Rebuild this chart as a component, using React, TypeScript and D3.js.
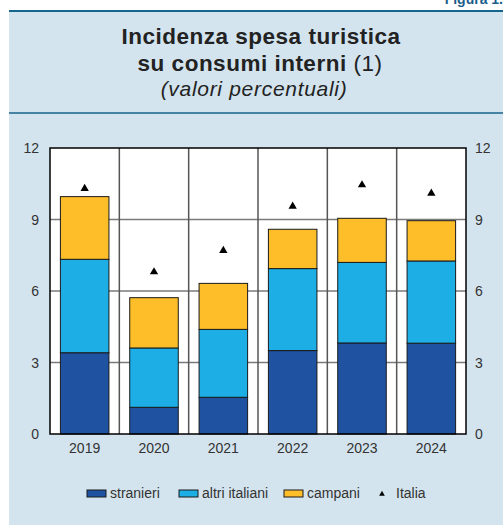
import React from "react";
import * as d3 from "d3";

// anni e serie (valori percentuali)
const years = ["2019", "2020", "2021", "2022", "2023", "2024"];
const stranieri = [3.41, 1.12, 1.54, 3.5, 3.82, 3.81];
const altriItaliani = [3.92, 2.49, 2.85, 3.44, 3.38, 3.45];
const campani = [2.63, 2.11, 1.93, 1.65, 1.85, 1.69];
const italia = [10.3, 6.8, 7.7, 9.55, 10.45, 10.1];
const yTicks = [0, 3, 6, 9, 12];

const seriesKeys = ["stranieri", "altri italiani", "campani"];
const colors = ["#1f52a0", "#1caee4", "#fdbe2a"];

const W = 503;
const H = 525;
const margin = { left: 50, right: 37, top: 148, bottom: 91 };
const font = "Arial, 'Liberation Sans', Helvetica, sans-serif";

const App = () => {
  const rows = years.map((y, i) => ({
    year: y,
    stranieri: stranieri[i],
    "altri italiani": altriItaliani[i],
    campani: campani[i],
  }));
  const stacked = d3.stack<any>().keys(seriesKeys)(rows);

  const x = d3
    .scaleBand()
    .domain(years)
    .range([margin.left, W - margin.right])
    .paddingInner(0)
    .paddingOuter(0);
  const y = d3
    .scaleLinear()
    .domain([0, 12])
    .range([H - margin.bottom, margin.top]);

  const barW = x.bandwidth() * 0.7;
  const triangle = d3.symbol().type(d3.symbolTriangle).size(30)();

  const legend = [
    { label: "stranieri", x: 87, color: colors[0] },
    { label: "altri italiani", x: 179, color: colors[1] },
    { label: "campani", x: 284, color: colors[2] },
  ];

  return (
    <svg
      width={W}
      height={H}
      style={{ position: "absolute", left: 0, top: 0 }}
      fontFamily={font}
    >
      <rect x={0} y={0} width={W} height={H} fill="#ffffff" />
      <text
        x={503}
        y={4}
        textAnchor="end"
        fontSize={14}
        fontWeight="bold"
        fill="#1a5d8a"
      >
        Figura 1.
      </text>
      <rect x={9} y={12} width={W - 9} height={H - 12} fill="#d3e4ee" />
      <line x1={9} x2={W} y1={11} y2={11} stroke="#17658c" strokeWidth={2} />
      <line x1={9} x2={W} y1={113} y2={113} stroke="#17658c" strokeWidth={1.5} />

      <text x={261} y={44} textAnchor="middle" fontSize={22.5} letterSpacing={0.5} fontWeight="bold" fill="#222">
        Incidenza spesa turistica
      </text>
      <text x={260} y={71} textAnchor="middle" fontSize={22.5} letterSpacing={0.5} fill="#222">
        <tspan fontWeight="bold">su consumi interni</tspan> (1)
      </text>
      <text x={254} y={96} textAnchor="middle" fontSize={21} letterSpacing={0.7} fontStyle="italic" fill="#222">
        (valori percentuali)
      </text>

      {/* area del grafico */}
      <rect
        x={margin.left}
        y={margin.top}
        width={W - margin.left - margin.right}
        height={H - margin.top - margin.bottom}
        fill="#ffffff"
      />
      {yTicks.slice(1, -1).map((t) => (
        <line
          key={t}
          x1={margin.left}
          x2={W - margin.right}
          y1={y(t)}
          y2={y(t)}
          stroke="#7a7a7a"
          strokeWidth={1.5}
        />
      ))}
      {years.slice(1).map((yr) => (
        <line
          key={yr}
          x1={x(yr)}
          x2={x(yr)}
          y1={margin.top}
          y2={H - margin.bottom}
          stroke="#555"
          strokeWidth={1.5}
        />
      ))}

      {stacked.map((s, si) =>
        s.map((d, i) => (
          <rect
            key={si + "-" + i}
            x={(x(years[i]) as number) + (x.bandwidth() - barW) / 2}
            y={y(d[1])}
            width={barW}
            height={y(d[0]) - y(d[1])}
            fill={colors[si]}
            stroke="#1a1a1a"
            strokeWidth={1}
          />
        ))
      )}

      {italia.map((v, i) => (
        <path
          key={i}
          d={triangle as string}
          transform={`translate(${(x(years[i]) as number) + x.bandwidth() / 2},${y(v)})`}
          fill="#000"
        />
      ))}

      <rect
        x={margin.left}
        y={margin.top}
        width={W - margin.left - margin.right}
        height={H - margin.top - margin.bottom}
        fill="none"
        stroke="#000"
        strokeWidth={1.5}
      />

      {yTicks.map((t) => (
        <g key={t} fontSize={14} fill="#333">
          <text x={39} y={y(t) + 5} textAnchor="end">
            {t}
          </text>
          <text x={475} y={y(t) + 5} textAnchor="start">
            {t}
          </text>
        </g>
      ))}
      {years.map((yr) => (
        <text
          key={yr}
          x={(x(yr) as number) + x.bandwidth() / 2}
          y={453}
          textAnchor="middle"
          fontSize={14}
          fill="#333"
        >
          {yr}
        </text>
      ))}

      {legend.map((l) => (
        <g key={l.label}>
          <rect x={l.x} y={490} width={19} height={7} fill={l.color} stroke="#1a1a1a" strokeWidth={1} />
          <text x={l.x + 23} y={498} fontSize={14} fill="#333">
            {l.label}
          </text>
        </g>
      ))}
      <path d={d3.symbol().type(d3.symbolTriangle).size(14)() as string} transform="translate(382,494)" fill="#000" />
      <text x={396} y={498} fontSize={14} fill="#333">
        Italia
      </text>
    </svg>
  );
};

export default App;
